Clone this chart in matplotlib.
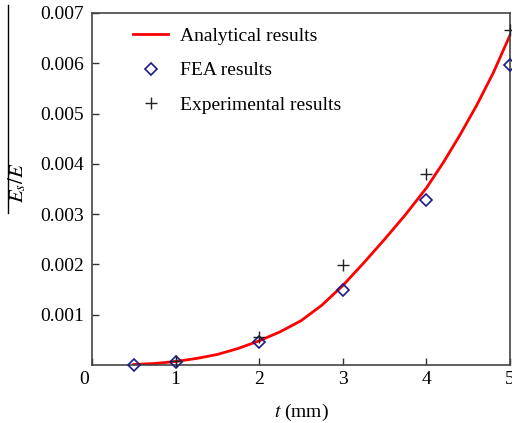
import matplotlib
matplotlib.use("Agg")
import matplotlib.pyplot as plt
from matplotlib.lines import Line2D
from matplotlib.transforms import ScaledTranslation

plt.rcParams["font.family"] = ["Liberation Serif", "DejaVu Serif"]
plt.rcParams["mathtext.fontset"] = "stix"

# Analytical curve
t_curve = [0.5, 0.75, 1.0, 1.25, 1.5, 1.75, 2.0, 2.25, 2.5, 2.75, 3.0, 3.25,
           3.5, 3.75, 4.0, 4.2, 4.4, 4.6, 4.8, 5.0]
es_curve = [0.00001, 0.00003, 0.00007, 0.00013, 0.00021, 0.00033, 0.00048,
            0.00066, 0.00088, 0.00119, 0.00158, 0.00203, 0.00250, 0.00299,
            0.00352, 0.00402, 0.00457, 0.00516, 0.00581, 0.00656]

# FEA results
t_fea = [0.5, 1.0, 2.0, 3.0, 4.0, 5.0]
es_fea = [0.0, 0.00005, 0.00046, 0.00149, 0.00328, 0.00597]

# Experimental results
t_exp = [1.0, 2.0, 3.0, 4.0, 5.0]
es_exp = [0.00008, 0.00055, 0.00199, 0.00379, 0.00667]

x_ticks = [0, 1, 2, 3, 4, 5]
y_ticks = [0.001, 0.002, 0.003, 0.004, 0.005, 0.006, 0.007]
y_tick_labels = ["0.001", "0.002", "0.003", "0.004", "0.005", "0.006", "0.007"]

fig = plt.figure(figsize=(5.12, 4.23), dpi=100)
ax = fig.add_axes([92 / 512, 1 - 365 / 423, 418 / 512, 352 / 423])

ax.plot(t_curve, es_curve, color="#ff0000", lw=2.0, label="Analytical results",
        zorder=2, solid_joinstyle="round")
ax.plot(t_fea, es_fea, ls="none", marker="D", ms=6.3, mfc="none", mec="#1a1a8c",
        mew=1.2, label="FEA results", zorder=3, clip_on=False)
ax.plot(t_exp, es_exp, ls="none", marker="+", ms=9, color="#222222", mew=1.0,
        label="Experimental results", zorder=3, clip_on=False)

ax.set_xlim(0, 5)
ax.set_ylim(0, 0.007)
ax.set_xticks(x_ticks)
ax.set_xticklabels([str(v) for v in x_ticks])
ax.set_yticks(y_ticks)
ax.set_yticklabels(y_tick_labels)

ax.tick_params(axis="both", direction="in", length=5, width=1.0, colors="#333333",
               labelsize=14, labelcolor="black")
ax.tick_params(axis="y", pad=6)
ax.tick_params(axis="x", pad=4)
for sp in ax.spines.values():
    sp.set_color("#444444")
    sp.set_linewidth(1.2)

# the corner "0" sits slightly left of the origin
zero_lbl = ax.xaxis.get_major_ticks()[0].label1
zero_lbl.set_transform(zero_lbl.get_transform()
                       + ScaledTranslation(-8 / 100, 0, fig.dpi_scale_trans))

ax.set_xlabel(r"$t$ (mm)", fontsize=14, labelpad=10)

fig.text(17 / 512, 1 - 183 / 423, r"$E_s/E$", rotation=90, fontsize=15,
         ha="center", va="center")
fig.add_artist(Line2D([8 / 512, 8 / 512], [1 - 5 / 423, 1 - 213 / 423],
                      transform=fig.transFigure, color="black", lw=1.0))

ax.legend(loc="upper left", bbox_to_anchor=(0.052, 1.014), frameon=False, fontsize=14,
          handlelength=1.8, handletextpad=0.6, labelspacing=0.86, borderpad=0.5)

fig.savefig("out.png", dpi=100)
